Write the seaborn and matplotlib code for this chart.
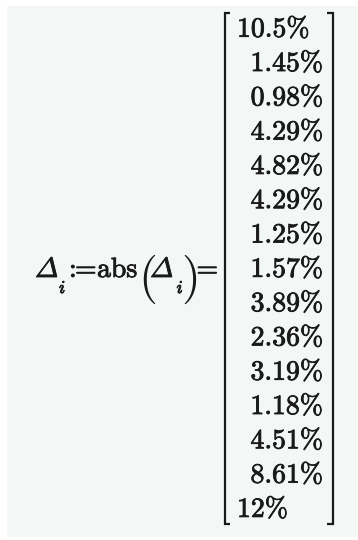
import os
import matplotlib
matplotlib.use("Agg")
import matplotlib.pyplot as plt
import matplotlib.patheffects as pe
from matplotlib.font_manager import FontProperties
import seaborn as sns
import pandas as pd
from matplotlib.patches import Rectangle

sns.set_theme(style="white")
plt.rcParams["font.family"] = ["cmr10", "DejaVu Serif"]

# ---- data ----
values = [10.5, 1.45, 0.98, 4.29, 4.82, 4.29, 1.25, 1.57, 3.89, 2.36, 3.19, 1.18, 4.51, 8.61, 12]
labels = ["10.5%", "1.45%", "0.98%", "4.29%", "4.82%", "4.29%", "1.25%", "1.57%",
          "3.89%", "2.36%", "3.19%", "1.18%", "4.51%", "8.61%", "12%"]
left_aligned = [True] + [False] * 13 + [True]

df = pd.DataFrame({"row": range(len(values)), "value": values, "label": labels,
                   "left": left_aligned})

fdir = os.path.join(matplotlib.get_data_path(), "fonts", "ttf")
fp_rm = FontProperties(fname=os.path.join(fdir, "cmr10.ttf"))
fp_it = FontProperties(fname=os.path.join(fdir, "cmmi10.ttf"))

W, H = 358, 540
fig = plt.figure(figsize=(W / 100, H / 100), dpi=100)
fig.patch.set_facecolor("white")
ax = fig.add_axes([0, 0, 1, 1])
ax.set_xlim(0, W)
ax.set_ylim(H, 0)
ax.axis("off")

bg = "#f3f7f5"
ax.add_patch(Rectangle((7, 6), W - 7, 531, facecolor=bg, edgecolor="none", zorder=0))

ink = "#1a1a1a"
fx = [pe.withStroke(linewidth=0.6, foreground=ink)]
fs = 20
pitch = 34.3
base0 = 36.7

def txt(x, y, s, fp, size=fs, ha="left", bold=True):
    ax.text(x, y, s, ha=ha, va="baseline", fontproperties=fp, fontsize=size,
            color=ink, path_effects=fx if bold else None)

for _, r in df.iterrows():
    y = base0 + r["row"] * pitch
    if r["left"]:
        txt(237, y, r["label"], fp_rm)
    else:
        txt(323, y, r["label"], fp_rm, ha="right")

# brackets
lw = 1.6
top, bot = 13, 524
ax.plot([230, 224.5, 224.5, 230], [top, top, bot, bot], color=ink, lw=lw,
        solid_joinstyle="miter", solid_capstyle="butt")
ax.plot([327, 332.5, 332.5, 327], [top, top, bot, bot], color=ink, lw=lw,
        solid_joinstyle="miter", solid_capstyle="butt")

# left-hand expression
DELTA_IT = "\u00a2"  # italic capital Delta slot in BaKoMa cmmi10
yb = 277
txt(35, yb, DELTA_IT, fp_it, size=20)
txt(59, 293, "i", fp_it, size=13)
txt(69, yb, ":", fp_rm)
txt(75, yb, "=", fp_rm)
txt(97, yb, "abs", fp_rm)
txt(138.5, 292, "(", fp_rm, size=35, bold=False)
txt(150, yb, DELTA_IT, fp_it, size=20)
txt(176.5, 293, "i", fp_it, size=13)
txt(181.5, 292, ")", fp_rm, size=35, bold=False)
txt(196.5, yb, "=", fp_rm)

fig.savefig("out.png", dpi=100, facecolor="white")
